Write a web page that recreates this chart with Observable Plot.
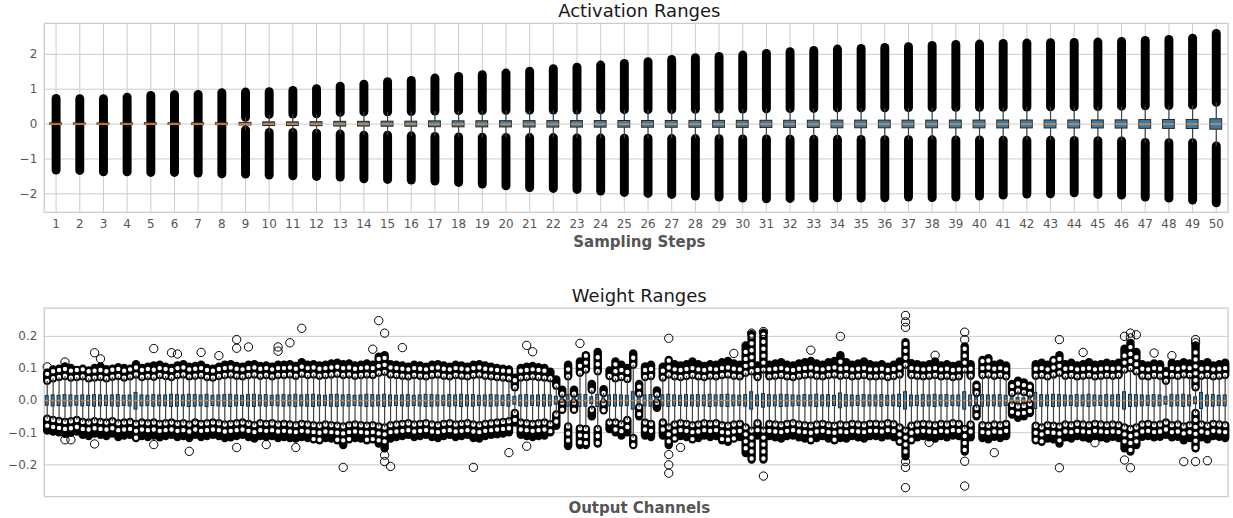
<!DOCTYPE html>
<html><head><meta charset="utf-8">
<script src="https://cdn.jsdelivr.net/npm/d3@7"></script>
<script src="https://cdn.jsdelivr.net/npm/@observablehq/plot@0.6"></script>
<style>
body{margin:0;background:#fff;font-family:"DejaVu Sans",sans-serif;}
#wrap{position:relative;width:1233px;height:518px;overflow:hidden;background:#fff;}
#wrap svg{position:absolute;left:0;}
.t{position:absolute;left:44px;width:1190.6px;text-align:center;white-space:nowrap;z-index:5;}
.title{font-size:18px;color:#1a1a1a;line-height:22px;height:22px;}
.xl{font-size:15px;font-weight:bold;color:#555;line-height:20px;height:20px;}
</style></head><body><div id="wrap"></div>
<script>
// ---------- Activation ranges (top) ----------
const steps = [1,2,3,4,5,6,7,8,9,10,11,12,13,14,15,16,17,18,19,20,21,22,23,24,25,26,27,28,29,30,31,32,33,34,35,36,37,38,39,40,41,42,43,44,45,46,47,48,49,50];
const actMax = [.722,.713,.713,.760,.808,.827,.837,.885,.904,.913,.952,.999,1.076,1.133,1.200,1.239,1.306,1.353,1.401,1.449,1.506,1.573,1.621,1.679,1.726,1.774,1.841,1.889,1.927,1.966,2.013,2.061,2.100,2.138,2.157,2.186,2.205,2.243,2.272,2.281,2.300,2.310,2.319,2.329,2.339,2.358,2.386,2.415,2.453,2.587];
const actMin = [-1.334,-1.344,-1.382,-1.382,-1.401,-1.401,-1.420,-1.440,-1.449,-1.478,-1.497,-1.516,-1.535,-1.583,-1.602,-1.621,-1.650,-1.688,-1.736,-1.784,-1.832,-1.860,-1.889,-1.937,-1.975,-2.004,-2.032,-2.080,-2.109,-2.138,-2.157,-2.147,-2.138,-2.128,-2.138,-2.128,-2.109,-2.119,-2.109,-2.080,-2.052,-2.023,-2.013,-1.985,-2.032,-2.052,-2.109,-2.138,-2.195,-2.272];
const actWhHi = [.03,.03,.03,.035,.035,.04,.04,.045,.18,.263,.273,.282,.32,.34,.34,.345,.36,.37,.375,.38,.385,.39,.39,.395,.40,.40,.405,.41,.415,.42,.425,.43,.435,.45,.45,.455,.46,.46,.465,.47,.47,.475,.48,.48,.49,.50,.51,.52,.53,.61];
const actWhLo = [-.03,-.03,-.03,-.035,-.035,-.04,-.04,-.045,-.18,-.253,-.253,-.273,-.30,-.33,-.33,-.35,-.37,-.38,-.39,-.395,-.40,-.40,-.41,-.415,-.42,-.42,-.43,-.43,-.435,-.44,-.44,-.445,-.45,-.45,-.455,-.46,-.46,-.465,-.47,-.47,-.475,-.48,-.48,-.485,-.49,-.50,-.54,-.545,-.55,-.64];
const actQ3 = [.02,.02,.02,.02,.025,.025,.025,.025,.035,.05,.05,.055,.065,.065,.07,.07,.08,.08,.082,.084,.085,.086,.087,.088,.089,.09,.09,.092,.093,.094,.095,.096,.097,.10,.10,.10,.10,.10,.102,.102,.104,.104,.105,.105,.106,.108,.115,.118,.12,.14];
const actQ1 = [-.02,-.02,-.02,-.022,-.025,-.025,-.027,-.028,-.04,-.055,-.055,-.06,-.07,-.07,-.075,-.075,-.09,-.092,-.094,-.096,-.098,-.10,-.10,-.102,-.103,-.104,-.105,-.106,-.107,-.108,-.11,-.11,-.112,-.12,-.12,-.12,-.12,-.12,-.122,-.122,-.124,-.124,-.125,-.125,-.126,-.128,-.135,-.138,-.14,-.16];
const actMed = [0,0,0,0,0,0,0,0,0,0,0,0,0,0,0,0,0,0,0,0,0,0,0,0,0,0,0,0,0,0,0,0,0,0,0,0,0,0,0,0,0,0,0,0,0,0,0,0,0,0];
const actTicks = [-2,-1,0,1,2];

// ---------- Weight ranges (bottom) ----------
const wHi = [.060,.068,.072,.075,.070,.072,.074,.068,.070,.072,.068,.073,.075,.070,.074,.080,.072,.075,.073,.078,
.075,.072,.078,.080,.074,.076,.078,.072,.070,.075,.078,.080,.076,.074,.078,.080,.076,.078,.074,.078,
.078,.080,.076,.082,.078,.080,.076,.078,.080,.082,.078,.080,.076,.078,.080,.078,.085,.088,.080,.078,
.076,.074,.078,.076,.074,.078,.080,.076,.074,.078,.076,.074,.078,.080,.076,.074,.072,.070,.068,.040,
.070,.072,.074,.072,.070,.068,.045,.020,.074,.020,.085,.095,.032,.090,.022,.075,.068,.072,.066,.110,
.020,.072,.075,.018,.070,.080,.074,.072,.075,.078,.074,.072,.076,.074,.078,.080,.076,.074,.085,.090,
.072,.095,.074,.076,.078,.074,.072,.076,.078,.080,.076,.074,.078,.080,.076,.078,.074,.076,.078,.074,
.074,.076,.072,.075,.080,.110,.078,.076,.074,.076,.078,.074,.076,.072,.074,.095,.076,.022,.078,.080,
.076,.078,.074,.022,.030,.025,.020,.076,.078,.074,.080,.085,.076,.078,.074,.076,.078,.074,.076,.078,
.076,.078,.095,.100,.090,.076,.074,.078,.076,.060,.078,.076,.080,.078,.040,.076,.078,.074,.076,.078];
const wOutHi = [.085,.095,.098,.105,.100,.094,.098,.092,.100,.105,.096,.098,.102,.100,.098,.112,.100,.104,.108,.110,
.104,.100,.108,.112,.104,.106,.110,.100,.098,.104,.110,.112,.106,.104,.110,.112,.106,.108,.104,.110,
.110,.112,.106,.118,.110,.112,.108,.110,.114,.116,.112,.114,.108,.110,.114,.110,.135,.140,.112,.110,
.108,.104,.110,.108,.104,.110,.112,.108,.104,.110,.108,.104,.110,.112,.108,.104,.100,.098,.095,.070,
.100,.104,.106,.102,.100,.088,.064,.032,.110,.032,.120,.140,.050,.150,.034,.092,.120,.110,.100,.145,
.050,.105,.110,.030,.104,.125,.112,.108,.112,.120,.112,.106,.112,.110,.118,.122,.114,.110,.170,.205,
.108,.210,.110,.114,.118,.110,.108,.114,.118,.122,.114,.110,.118,.122,.140,.118,.110,.114,.120,.112,
.108,.112,.104,.110,.120,.180,.115,.112,.108,.112,.120,.108,.112,.106,.110,.167,.112,.048,.125,.130,
.110,.114,.108,.050,.060,.055,.045,.112,.116,.110,.125,.140,.112,.116,.108,.112,.118,.110,.112,.116,
.112,.116,.160,.178,.150,.112,.108,.114,.112,.090,.116,.112,.118,.114,.170,.112,.118,.108,.112,.116];
const wLo = [-.058,-.062,-.065,-.068,-.066,-.062,-.068,-.070,-.066,-.068,-.070,-.066,-.072,-.070,-.068,-.074,-.070,-.072,-.070,-.074,
-.072,-.070,-.074,-.072,-.076,-.070,-.074,-.072,-.070,-.072,-.076,-.074,-.072,-.070,-.074,-.078,-.072,-.074,-.072,-.076,
-.074,-.076,-.078,-.074,-.076,-.078,-.080,-.076,-.078,-.080,-.082,-.078,-.076,-.078,-.080,-.078,-.082,-.085,-.078,-.076,
-.074,-.072,-.076,-.074,-.072,-.076,-.078,-.074,-.072,-.076,-.074,-.072,-.076,-.078,-.074,-.072,-.070,-.068,-.066,-.040,
-.070,-.072,-.074,-.072,-.070,-.075,-.045,-.008,-.082,-.008,-.088,-.090,-.030,-.090,-.010,-.070,-.070,-.075,-.062,-.118,
-.022,-.070,-.074,-.008,-.070,-.085,-.076,-.072,-.074,-.078,-.076,-.072,-.074,-.072,-.078,-.080,-.076,-.074,-.085,-.095,
-.072,-.095,-.074,-.076,-.078,-.074,-.072,-.076,-.078,-.080,-.076,-.074,-.078,-.080,-.076,-.078,-.074,-.076,-.078,-.074,
-.074,-.076,-.072,-.075,-.085,-.095,-.080,-.076,-.074,-.076,-.078,-.074,-.076,-.072,-.074,-.090,-.076,-.025,-.078,-.080,
-.076,-.078,-.074,-.015,-.020,-.018,-.012,-.080,-.085,-.078,-.080,-.082,-.076,-.078,-.074,-.076,-.078,-.074,-.076,-.078,
-.076,-.078,-.085,-.090,-.085,-.076,-.074,-.078,-.076,-.070,-.078,-.076,-.082,-.078,-.040,-.076,-.080,-.074,-.076,-.078];
const wOutLo = [-.095,-.098,-.100,-.105,-.102,-.098,-.108,-.112,-.104,-.108,-.112,-.104,-.115,-.110,-.108,-.118,-.112,-.115,-.110,-.116,
-.112,-.108,-.115,-.112,-.118,-.108,-.115,-.112,-.108,-.112,-.118,-.116,-.112,-.108,-.115,-.120,-.112,-.115,-.112,-.118,
-.115,-.118,-.120,-.115,-.118,-.122,-.125,-.118,-.120,-.125,-.140,-.122,-.118,-.120,-.125,-.122,-.135,-.150,-.120,-.115,
-.112,-.108,-.115,-.112,-.108,-.115,-.118,-.112,-.108,-.115,-.112,-.108,-.118,-.120,-.112,-.108,-.106,-.104,-.100,-.070,
-.108,-.112,-.115,-.112,-.110,-.100,-.080,-.030,-.143,-.030,-.140,-.140,-.050,-.135,-.032,-.090,-.100,-.110,-.100,-.140,
-.050,-.110,-.115,-.024,-.110,-.140,-.120,-.112,-.115,-.122,-.118,-.110,-.115,-.112,-.125,-.130,-.120,-.115,-.165,-.185,
-.110,-.185,-.112,-.116,-.120,-.112,-.110,-.116,-.120,-.125,-.118,-.112,-.120,-.125,-.118,-.120,-.112,-.116,-.120,-.112,
-.112,-.116,-.110,-.115,-.130,-.175,-.125,-.116,-.112,-.116,-.120,-.112,-.116,-.110,-.112,-.160,-.116,-.050,-.118,-.122,
-.114,-.118,-.112,-.045,-.055,-.050,-.040,-.125,-.130,-.120,-.122,-.135,-.116,-.120,-.112,-.116,-.120,-.112,-.116,-.120,
-.114,-.118,-.150,-.160,-.140,-.114,-.112,-.116,-.114,-.108,-.116,-.114,-.125,-.118,-.150,-.116,-.122,-.112,-.114,-.118];
const wQ3 = [.014,.016,.015,.017,.016,.014,.016,.015,.017,.016,.015,.016,.017,.015,.016,.024,.016,.015,.017,.016,
.016,.018,.017,.016,.018,.017,.016,.018,.015,.016,.017,.018,.016,.015,.017,.018,.016,.017,.015,.016,
.017,.016,.018,.016,.017,.018,.016,.015,.017,.018,.016,.017,.015,.016,.018,.017,.016,.018,.016,.015,
.016,.017,.015,.016,.018,.017,.016,.015,.017,.016,.018,.016,.017,.015,.016,.017,.016,.015,.017,.012,
.016,.017,.015,.016,.017,.016,.012,.007,.017,.007,.018,.017,.010,.018,.007,.016,.017,.016,.015,.026,
.010,.016,.017,.007,.016,.018,.016,.015,.017,.016,.017,.016,.018,.016,.017,.018,.016,.015,.017,.026,
.016,.020,.017,.016,.018,.017,.016,.015,.017,.016,.018,.016,.017,.015,.022,.017,.016,.015,.017,.016,
.016,.017,.015,.016,.018,.026,.016,.015,.017,.016,.018,.016,.017,.015,.016,.026,.016,.010,.017,.016,
.016,.017,.015,.007,.008,.007,.007,.024,.017,.016,.018,.017,.016,.015,.017,.016,.018,.016,.015,.017,
.016,.017,.026,.018,.017,.016,.015,.017,.016,.012,.017,.016,.018,.016,.010,.024,.016,.017,.015,.016];
const wQ1 = [-.016,-.018,-.017,-.019,-.018,-.016,-.018,-.017,-.019,-.018,-.017,-.018,-.019,-.017,-.018,-.028,-.018,-.017,-.019,-.018,
-.018,-.020,-.019,-.018,-.020,-.019,-.018,-.020,-.017,-.018,-.019,-.020,-.018,-.017,-.019,-.020,-.018,-.019,-.017,-.018,
-.019,-.018,-.020,-.018,-.019,-.020,-.018,-.017,-.019,-.020,-.018,-.019,-.017,-.018,-.020,-.019,-.018,-.020,-.018,-.017,
-.018,-.019,-.017,-.018,-.020,-.019,-.018,-.017,-.019,-.018,-.020,-.018,-.019,-.017,-.018,-.019,-.018,-.017,-.019,-.013,
-.018,-.019,-.017,-.018,-.019,-.018,-.013,-.008,-.019,-.008,-.020,-.019,-.011,-.020,-.008,-.018,-.019,-.018,-.017,-.028,
-.011,-.018,-.019,-.008,-.018,-.020,-.018,-.017,-.019,-.018,-.019,-.018,-.020,-.018,-.019,-.020,-.018,-.017,-.019,-.028,
-.018,-.022,-.019,-.018,-.020,-.019,-.018,-.017,-.019,-.018,-.020,-.018,-.019,-.017,-.024,-.019,-.018,-.017,-.019,-.018,
-.018,-.019,-.017,-.018,-.020,-.028,-.018,-.017,-.019,-.018,-.020,-.018,-.019,-.017,-.018,-.028,-.018,-.011,-.019,-.018,
-.018,-.019,-.017,-.008,-.009,-.008,-.008,-.026,-.019,-.018,-.020,-.019,-.018,-.017,-.019,-.018,-.020,-.018,-.017,-.019,
-.018,-.019,-.028,-.020,-.019,-.018,-.017,-.019,-.018,-.013,-.019,-.018,-.020,-.018,-.011,-.026,-.018,-.019,-.017,-.018];
const wMed = [0,0,0,0,0,0,0,0,0,0,0,0,0,0,0,0,0,0,0,0,0,0,0,0,0,0,0,0,0,0,0,0,0,0,0,0,0,0,0,0,
0,0,0,0,0,0,0,0,0,0,0,0,0,0,0,0,0,0,0,0,0,0,0,0,0,0,0,0,0,0,0,0,0,0,0,0,0,0,0,0,
0,0,0,0,0,0,0,0,0,0,0,0,0,0,0,0,0,0,0,0,0,0,0,0,0,0,0,0,0,0,0,0,0,0,0,0,0,0,0,0,
0,0,0,0,0,0,0,0,0,0,0,0,0,0,0,0,0,0,0,0,0,0,0,0,0,0,0,0,0,0,0,0,0,0,0,0,0,0,0,0,
0,0,0,0,0,0,0,0,0,0,0,0,0,0,0,0,0,0,0,0,0,0,0,0,0,0,0,0,0,0,0,0,0,0,0,0,0,0,0,0];
// isolated fliers: [channel, value]
const wFliers = [[0,.105],[3,.12],[8,.149],[9,.13],[18,.162],[21,.149],[22,.145],[26,.15],[29,.14],[32,.19],[32,.163],[34,.167],[39,.167],[39,.154],
[41,.18],[43,.225],[55,.16],[56,.249],[57,.21],[60,.165],[81,.172],[82,.152],[90,.178],[105,.194],[116,.147],[119,.21],[121,.215],[129,.157],[134,.2],
[145,.265],[145,.245],[145,.228],[150,.141],[155,.213],[155,.19],[171,.19],[175,.15],[182,.2],[183,.21],[183,.195],[184,.205],[187,.148],[190,.14],[194,.19],[194,.18],
[3,-.122],[4,-.122],[8,-.135],[18,-.137],[24,-.158],[32,-.146],[37,-.137],[42,-.146],[50,-.208],[57,-.17],[57,-.19],[58,-.205],[72,-.208],[78,-.162],[81,-.142],
[105,-.168],[105,-.2],[105,-.226],[107,-.146],[121,-.235],[145,-.19],[145,-.208],[145,-.271],[149,-.13],[155,-.189],[155,-.266],[160,-.162],[171,-.209],[177,-.131],
[182,-.185],[183,-.209],[192,-.19],[194,-.19],[196,-.187]];
const wTicks = [-0.2,-0.1,0,0.1,0.2];

const act = steps.map((s,i)=>({x:s,q1:actQ1[i],q3:actQ3[i],med:actMed[i],lo:actWhLo[i],hi:actWhHi[i],min:actMin[i],max:actMax[i]}));
const wts = wQ3.map((_,i)=>({x:i,q1:wQ1[i],q3:wQ3[i],med:wMed[i],lo:wLo[i],hi:wHi[i],min:wOutLo[i],max:wOutHi[i]}));

const FILL = "#2e7fb8", EDGE = "#262626", WH = "#404040", MED = "#ff7f0e", GRID = "#cccccc";
function boxMarks(data, flierW, hollow) {
  const m = [
    Plot.ruleX(data, {x:"x", y1:"hi", y2:"max", stroke:"#000", strokeWidth:flierW, strokeLinecap:"round"}),
    Plot.ruleX(data, {x:"x", y1:"lo", y2:"min", stroke:"#000", strokeWidth:flierW, strokeLinecap:"round"})
  ];
  if (hollow) {
    // hollow marker interiors (open circles stacked along each flier cluster)
    m.push(Plot.ruleX(data, {x:"x", y1:"hi", y2:"max", stroke:"#fff", strokeWidth:4.4, strokeLinecap:"round", strokeDasharray:"0,7"}));
    m.push(Plot.ruleX(data, {x:"x", y1:"lo", y2:"min", stroke:"#fff", strokeWidth:4.4, strokeLinecap:"round", strokeDasharray:"0,7"}));
  }
  m.push(
    Plot.ruleX(data, {x:"x", y1:"q3", y2:"hi", stroke:WH, strokeWidth:1.2}),
    Plot.ruleX(data, {x:"x", y1:"q1", y2:"lo", stroke:WH, strokeWidth:1.2}),
    Plot.rect(data, {x1:d=>d.x-0.25, x2:d=>d.x+0.25, y1:"q1", y2:"q3", fill:FILL, stroke:EDGE, strokeWidth:1}),
    Plot.ruleY(data, {x1:d=>d.x-0.25, x2:d=>d.x+0.25, y:"med", stroke:MED, strokeWidth:1.5})
  );
  return m;
}
const baseStyle = {fontFamily:"DejaVu Sans", fontSize:"12px", color:"#555", background:"transparent", overflow:"visible"};

const topPlot = Plot.plot({
  width:1240, height:240, marginTop:23, marginBottom:27, marginLeft:44, marginRight:5.4,
  style: baseStyle,
  x:{domain:[0.5,50.5]},
  y:{domain:[-2.53,2.89]},
  marks:[
    Plot.gridX(steps, {stroke:GRID, strokeOpacity:1, strokeWidth:1}),
    Plot.gridY(actTicks, {stroke:GRID, strokeOpacity:1, strokeWidth:1}),
    Plot.frame({stroke:GRID, strokeWidth:1.3}),
    ...boxMarks(act, 9, false),
    Plot.axisX(steps, {tickSize:0, tickPadding:7, label:null, fontSize:12}),
    Plot.axisY(actTicks, {tickSize:0, tickPadding:7, label:null, fontSize:12, tickFormat:d3.format("d")})
  ]
});
topPlot.style.top = "0px";

const botPlot = Plot.plot({
  width:1240, height:215, marginTop:17.7, marginBottom:7.7, marginLeft:44, marginRight:5.4,
  style: baseStyle,
  x:{domain:[-0.5,199.5], axis:null},
  y:{domain:[-0.299,0.288]},
  marks:[
    Plot.gridY(wTicks, {stroke:GRID, strokeOpacity:1, strokeWidth:1}),
    Plot.frame({stroke:GRID, strokeWidth:1.3}),
    ...boxMarks(wts, 8.5, true),
    Plot.dot(wFliers, {x:d=>d[0], y:d=>d[1], r:4.2, fill:"none", stroke:"#000", strokeWidth:1}),
    Plot.axisY(wTicks, {tickSize:0, tickPadding:7, label:null, fontSize:12, tickFormat:d3.format(".1f")})
  ]
});
botPlot.style.top = "290px";

const wrap = document.getElementById("wrap");
wrap.appendChild(topPlot);
wrap.appendChild(botPlot);
function addText(cls, txt, top){ const d=document.createElement("div"); d.className="t "+cls; d.textContent=txt; d.style.top=top+"px"; wrap.appendChild(d); }
addText("title","Activation Ranges",0);
addText("xl","Sampling Steps",232);
addText("title","Weight Ranges",285);
addText("xl","Output Channels",498);
</script></body></html>
